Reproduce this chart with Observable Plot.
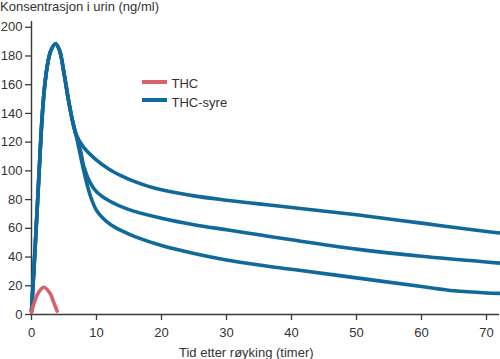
<!DOCTYPE html>
<html>
<head>
<meta charset="utf-8">
<script src="https://cdn.jsdelivr.net/npm/d3@7"></script>
<script src="https://cdn.jsdelivr.net/npm/@observablehq/plot@0.6"></script>
<style>
  html, body { margin: 0; padding: 0; background: #fff; }
  #wrap { position: relative; width: 500px; height: 359px; font-family: "Liberation Sans", Arial, sans-serif; color: #333; }
  .lbl { position: absolute; font-size: 13px; line-height: 13px; white-space: nowrap; color: #333; }
  .sw { position: absolute; width: 25px; height: 4px; }
</style>
</head>
<body>
<div id="wrap"></div>
<script>
// Data (hours after smoking, concentration ng/ml)
const thcHours = [0, 0.36, 1.1, 1.9, 2.9, 3.4, 3.95];
const thcConc  = [1.5, 7.4, 15.5, 19, 14.4, 8.6, 2.3];

// shared rising part + peak of THC-syre
const acidRiseHours = [0, 0.6, 1.1, 1.6, 2.0, 2.5, 3.0, 3.7, 4.3, 5.0, 5.7, 6.3, 6.8];
const acidRiseConc  = [2, 50, 93, 135, 158, 175, 184, 188.5, 184, 168, 149, 135, 126];

// three elimination branches of THC-syre
const upperHours = [6.8, 8, 10, 12, 14, 16, 18, 20, 25, 30, 35, 40, 50, 60, 70, 72];
const upperConc  = [126, 116.5, 107.5, 101, 96.2, 92.3, 89.2, 86.8, 82.6, 79.6, 77, 74.5, 69.4, 63.6, 57.8, 56.8];

const middleHours = [6.8, 7.5, 8.05, 9, 10, 12, 15, 20, 25, 30, 35, 40, 50, 60, 70, 72];
const middleConc  = [126, 115, 103, 92, 85.5, 79, 73, 67, 62.5, 59, 55.5, 52, 45.5, 40.5, 36.5, 35.8];

const lowerHours = [6.8, 8.3, 9.1, 10, 11, 12.2, 14, 16, 20, 25, 30, 35, 40, 50, 60, 65, 70, 72];
const lowerConc  = [126, 95, 82, 72.5, 67, 62.5, 58, 54, 48, 42.5, 38, 34.5, 31.5, 25.5, 19.5, 16.5, 15, 14.7];

const xTicks = [0, 10, 20, 30, 40, 50, 60, 70];
const yTicks = [0, 20, 40, 60, 80, 100, 120, 140, 160, 180, 200];

const titleText = "Konsentrasjon i urin (ng/ml)";
const xLabelText = "Tid etter røyking (timer)";
const seriesNames = ["THC", "THC-syre"];
const colors = ["#d8606d", "#11699b"];

const toRows = (hs, cs, branch) => hs.map((h, i) => ({h, c: cs[i], branch}));
const thc = toRows(thcHours, thcConc, "thc");
const acid = [
  toRows(acidRiseHours.concat(upperHours.slice(1)), acidRiseConc.concat(upperConc.slice(1)), "upper"),
  toRows(acidRiseHours.concat(middleHours.slice(1)), acidRiseConc.concat(middleConc.slice(1)), "middle"),
  toRows(acidRiseHours.concat(lowerHours.slice(1)), acidRiseConc.concat(lowerConc.slice(1)), "lower")
].flat();

const axisColor = "#3a3a3a";

const chart = Plot.plot({
  width: 500,
  height: 359,
  marginLeft: 31,
  marginRight: 1,
  marginTop: 21,
  marginBottom: 45,
  style: {fontFamily: "'Liberation Sans', Arial, sans-serif", fontSize: "13px", color: "#333", background: "transparent"},
  x: {domain: [0, 72]},
  y: {domain: [0, 204]},
  marks: [
    Plot.axisY({ticks: yTicks, tickSize: 6, tickPadding: 3, label: null, stroke: axisColor, strokeWidth: 1.3, fill: "#333"}),
    Plot.axisX({ticks: xTicks, tickSize: 6, tickPadding: 7, label: null, stroke: axisColor, strokeWidth: 1.3, fill: "#333"}),
    Plot.ruleX([0], {stroke: axisColor, strokeWidth: 1.4}),
    Plot.ruleY([0], {stroke: axisColor, strokeWidth: 1.4}),
    Plot.line(acid, {x: "h", y: "c", z: "branch", stroke: colors[1], strokeWidth: 3.6, curve: "catmull-rom"}),
    Plot.line(thc, {x: "h", y: "c", stroke: colors[0], strokeWidth: 3.6, curve: "catmull-rom"})
  ]
});
chart.style.position = "absolute";
chart.style.left = "0px";
chart.style.top = "0px";

const wrap = document.getElementById("wrap");
wrap.appendChild(chart);

function addLabel(text, left, top) {
  const d = document.createElement("div");
  d.className = "lbl";
  d.textContent = text;
  d.style.left = left + "px";
  d.style.top = top + "px";
  wrap.appendChild(d);
}
function addSwatch(color, left, top) {
  const d = document.createElement("div");
  d.className = "sw";
  d.style.background = color;
  d.style.left = left + "px";
  d.style.top = top + "px";
  wrap.appendChild(d);
}
addLabel(titleText, 0, 0);
addLabel(xLabelText, 179, 346);
addSwatch(colors[0], 142, 80);
addLabel(seriesNames[0], 171.5, 77);
addSwatch(colors[1], 142, 98);
addLabel(seriesNames[1], 171.5, 96);
</script>
</body>
</html>
